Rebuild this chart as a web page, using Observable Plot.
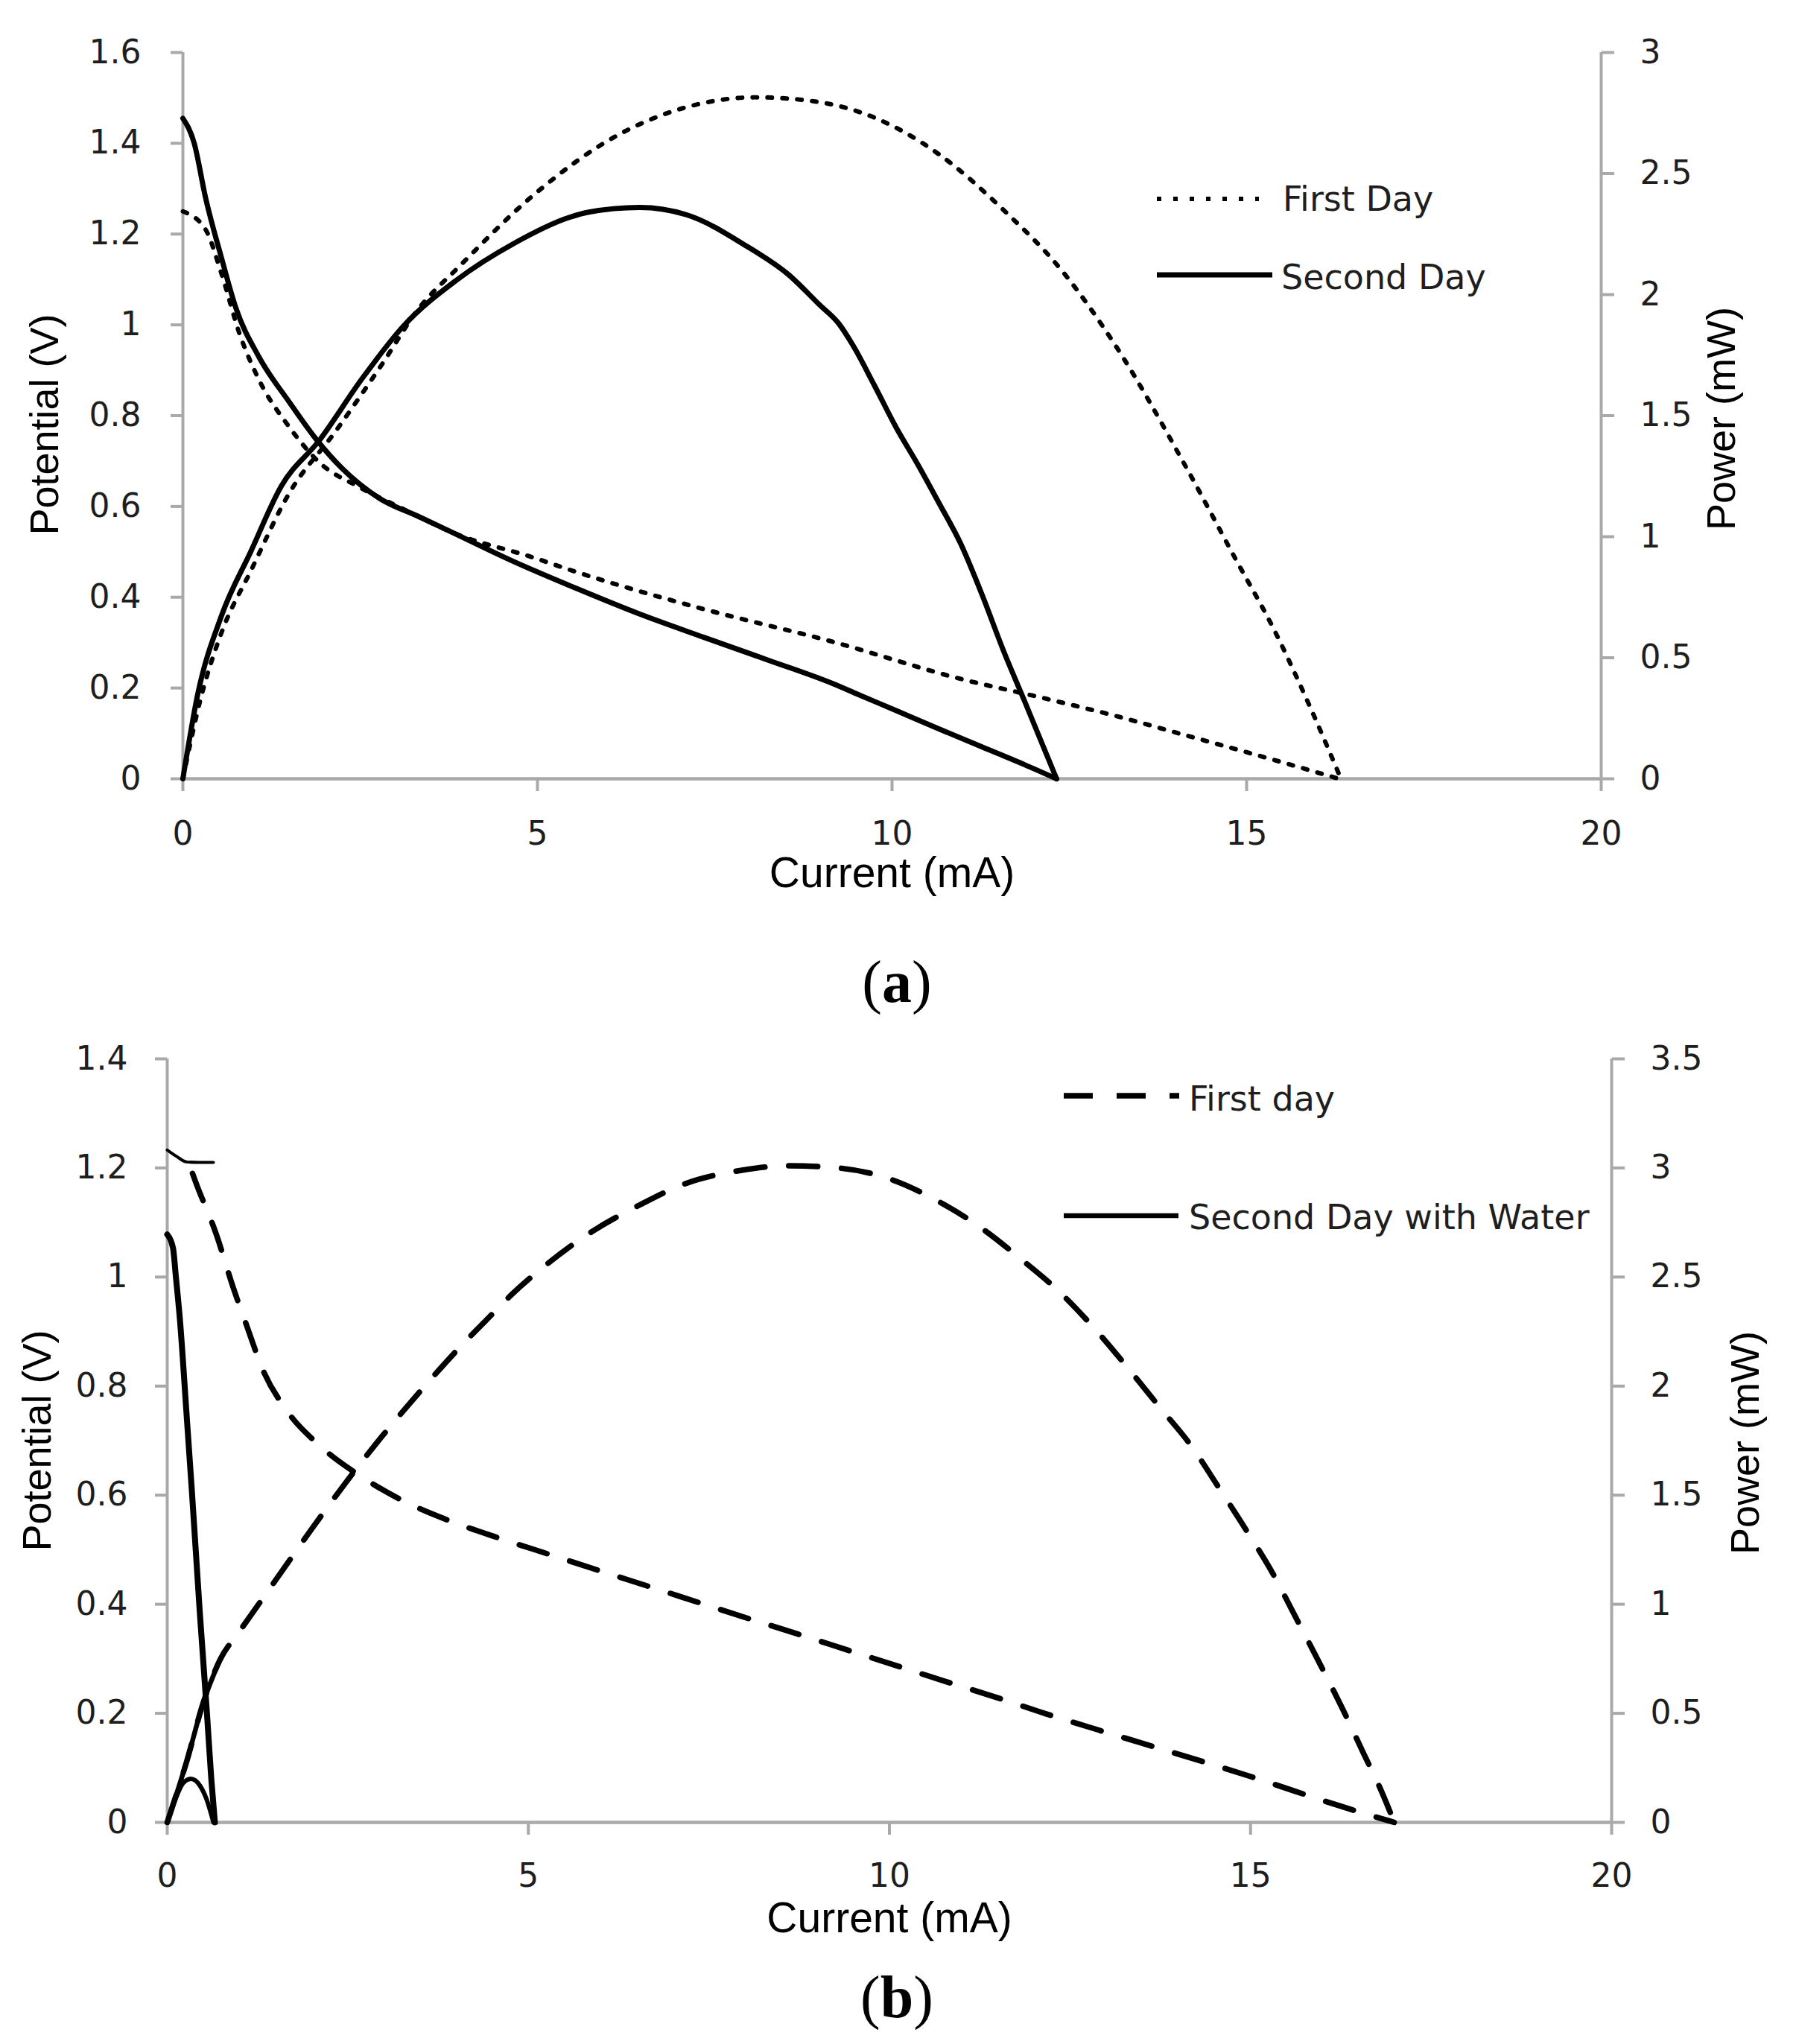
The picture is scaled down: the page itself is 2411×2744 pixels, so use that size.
<!DOCTYPE html>
<html><head><meta charset="utf-8">
<script src="https://cdn.jsdelivr.net/npm/d3@7"></script>
<script src="https://cdn.jsdelivr.net/npm/@observablehq/plot@0.6"></script>
<style>
html,body{margin:0;padding:0;background:#fff;}
#page{position:relative;width:2411px;height:2744px;background:#fff;overflow:hidden;}
#page > svg{position:absolute;left:0;}
</style></head><body><div id="page"></div>
<script>
// ---------- shared ticks ----------
const currentTicks = [0, 5, 10, 15, 20];

// ---------- panel (a) ----------
const aPotentialTicks = [0, 0.2, 0.4, 0.6, 0.8, 1, 1.2, 1.4, 1.6];
const aPowerTicks = [0, 0.5, 1, 1.5, 2, 2.5, 3];
// [current mA, potential V]
const aFirstPotential = [[0,1.25],[0.32,1.21],[0.54,1.115],[0.8,0.98],[1.07,0.88],[1.5,0.775],[1.93,0.696],[2.47,0.644],[3.06,0.598],[3.86,0.539],[4.93,0.488],[5.54,0.456],[7.34,0.374],[9.16,0.302],[10.97,0.22],[12.13,0.178],[13.14,0.139],[14.16,0.095],[15.51,0.036],[16.3,0]];
// [current mA, power mW]
const aFirstPower = [[0,0],[0.25,0.33],[0.54,0.6],[0.96,0.86],[1.5,1.18],[2.14,1.43],[2.78,1.7],[3.32,1.94],[3.91,2.12],[4.94,2.41],[6.14,2.66],[7.05,2.77],[8.07,2.815],[8.86,2.8],[9.76,2.73],[10.66,2.58],[11.57,2.35],[12.42,2.09],[13.15,1.79],[14.16,1.28],[14.84,0.91],[15.38,0.62],[15.92,0.28],[16.33,0]];
const aSecondPotential = [[0,1.455],[0.16,1.4],[0.32,1.28],[0.54,1.15],[0.75,1.036],[1.07,0.93],[1.5,0.83],[1.87,0.75],[2.25,0.683],[2.78,0.617],[3.32,0.578],[3.73,0.548],[4.63,0.481],[5.54,0.42],[6.44,0.363],[7.34,0.312],[8.26,0.261],[9.16,0.21],[9.52,0.186],[10.06,0.15],[10.66,0.11],[11.27,0.07],[11.87,0.031],[12.32,0]];
const aSecondPower = [[0,0],[0.21,0.35],[0.54,0.67],[0.96,0.94],[1.39,1.21],[1.93,1.4],[2.52,1.65],[3.11,1.87],[3.86,2.06],[4.66,2.21],[5.46,2.32],[5.71,2.34],[6.44,2.36],[7.1,2.33],[7.95,2.2],[8.55,2.08],[8.97,1.96],[9.25,1.88],[9.45,1.79],[9.76,1.62],[10.06,1.45],[10.36,1.3],[10.66,1.14],[10.97,0.97],[11.27,0.76],[11.57,0.53],[11.87,0.32],[12.32,0]];

// ---------- panel (b) ----------
const bPotentialTicks = [0, 0.2, 0.4, 0.6, 0.8, 1, 1.2, 1.4];
const bPowerTicks = [0, 0.5, 1, 1.5, 2, 2.5, 3, 3.5];
const bFirstPotential = [[0.35,1.19],[0.4,1.172],[0.68,1.078],[0.91,0.982],[1.1,0.911],[1.33,0.828],[1.65,0.756],[2.11,0.691],[2.71,0.632],[3.26,0.59],[3.91,0.553],[4.6,0.521],[5.3,0.491],[5.95,0.463],[6.66,0.433],[7.34,0.404],[8.02,0.375],[8.74,0.345],[9.42,0.316],[10.13,0.286],[10.81,0.257],[11.51,0.228],[12.17,0.199],[12.88,0.17],[13.58,0.142],[14.98,0.085],[16.36,0.025],[16.99,0]];
const bFirstPotentialStart = [[0,1.233],[0.12,1.222],[0.27,1.211],[0.45,1.21],[0.64,1.21]];
const bFirstPower = [[0,0],[0.27,0.28],[0.5,0.55],[0.73,0.745],[1.0,0.875],[1.5,1.11],[2.0,1.345],[2.5,1.57],[3.0,1.78],[3.5,1.975],[4.0,2.16],[4.5,2.33],[4.77,2.42],[5.3,2.57],[5.89,2.71],[6.54,2.83],[7.19,2.93],[7.87,2.985],[8.61,3.01],[9.29,3.0],[10.0,2.95],[10.66,2.85],[11.25,2.73],[11.83,2.58],[12.36,2.43],[12.85,2.26],[13.31,2.08],[13.75,1.9],[14.17,1.73],[14.57,1.53],[14.94,1.34],[15.31,1.14],[15.61,0.95],[15.94,0.74],[16.26,0.53],[16.56,0.32],[16.83,0.13],[16.99,0]];
const bFirstPowerSolidUpTo = 0.73;
const bSecondPotential = [[0,1.078],[0.08,1.053],[0.12,1.0],[0.175,0.923],[0.27,0.744],[0.34,0.61],[0.45,0.387],[0.55,0.2],[0.61,0.08],[0.66,0]];
const bSecondPower = [[0,0],[0.13,0.12],[0.22,0.18],[0.33,0.2],[0.45,0.17],[0.54,0.11],[0.64,0]];

// ---------- helpers ----------
const fmt = v => String(+(+v).toFixed(3));
const GRAY = "#a9a9a9";
const TXT = "#1e1e1e";
const TICKFONT = "DejaVu Sans";
const TITLEFONT = "Liberation Sans";
const CURVE = "monotone-x";
const page = document.getElementById("page");

function panel(cfg) {
  const k = cfg.yMax / cfg.pMax;
  const P = d => d[1] * k;
  const marks = [
    Plot.ruleY([0], {stroke: GRAY, strokeWidth: 4.5}),
    Plot.ruleX([0, 20], {stroke: GRAY, strokeWidth: 4}),
    Plot.axisX(currentTicks, {anchor: "bottom", tickSize: 17, tickPadding: cfg.xPad, stroke: GRAY, strokeWidth: 4, fill: TXT, fontSize: 44, fontFamily: TICKFONT, tickFormat: fmt}),
    Plot.axisY(cfg.yTicks, {anchor: "left", tickSize: 16, tickPadding: cfg.lPad, stroke: GRAY, strokeWidth: 4, fill: TXT, fontSize: 44, fontFamily: TICKFONT, tickFormat: fmt}),
    Plot.axisY(cfg.pTicks.map(p => p * k), {anchor: "right", tickSize: 17, tickPadding: 35, stroke: GRAY, strokeWidth: 4, fill: TXT, fontSize: 44, fontFamily: TICKFONT, textAnchor: "start", tickFormat: v => fmt(v / k)}),
    ...cfg.lines(P),
    Plot.text(["Current (mA)"], {frameAnchor: "bottom", dy: cfg.xTitleDy, fontSize: 57, fontFamily: TITLEFONT, fill: "#000", textAnchor: "middle", lineAnchor: "middle"}),
    Plot.text(["Potential (V)"], {frameAnchor: "left", dx: cfg.lTitleDx, dy: cfg.lTitleDy, rotate: -90, fontSize: 54, fontFamily: TITLEFONT, fill: "#000", textAnchor: "middle", lineAnchor: "middle"}),
    Plot.text(["Power (mW)"], {frameAnchor: "right", dx: cfg.rTitleDx, dy: cfg.rTitleDy, rotate: -90, fontSize: 54, fontFamily: TITLEFONT, fill: "#000", textAnchor: "middle", lineAnchor: "middle"})
  ];
  const svg = Plot.plot({
    width: 2411, height: cfg.height,
    marginTop: cfg.mt, marginBottom: cfg.mb, marginLeft: cfg.ml, marginRight: cfg.mr,
    x: {domain: [0, 20], axis: null},
    y: {domain: [0, cfg.yMax], axis: null},
    style: {fontFamily: TICKFONT, fontSize: "44px", background: "transparent"},
    marks
  });
  svg.style.top = cfg.top + "px";
  page.appendChild(svg);
}

const X = d => d[0], Y = d => d[1];

panel({
  top: 0, height: 1220, mt: 70, mb: 175, ml: 245, mr: 262,
  yMax: 1.6, pMax: 3, yTicks: aPotentialTicks, pTicks: aPowerTicks,
  xPad: 40, lPad: 40,
  xTitleDy: 127, lTitleDx: -185, lTitleDy: 12, rTitleDx: 162, rTitleDy: 4,
  lines: P => [
    Plot.line(aFirstPotential, {x: X, y: Y, stroke: "#000", strokeWidth: 6, strokeDasharray: "6,14", curve: CURVE}),
    Plot.line(aFirstPower, {x: X, y: P, stroke: "#000", strokeWidth: 6, strokeDasharray: "6,14", curve: CURVE}),
    Plot.line(aSecondPotential, {x: X, y: Y, stroke: "#000", strokeWidth: 7, strokeLinejoin: "round", curve: CURVE}),
    Plot.line(aSecondPower, {x: X, y: P, stroke: "#000", strokeWidth: 7, strokeLinejoin: "round", curve: CURVE})
  ]
});

panel({
  top: 1360, height: 1260, mt: 61, mb: 174, ml: 224, mr: 248,
  yMax: 1.4, pMax: 3.5, yTicks: bPotentialTicks, pTicks: bPowerTicks,
  xPad: 38, lPad: 37,
  xTitleDy: 129, lTitleDx: -174, lTitleDy: 0, rTitleDx: 180, rTitleDy: 3,
  lines: P => [
    Plot.line(bFirstPotentialStart, {x: X, y: Y, stroke: "#000", strokeWidth: 4, curve: CURVE}),
    Plot.line(bFirstPotential, {x: X, y: Y, stroke: "#000", strokeWidth: 7.5, strokeDasharray: "39,32", curve: CURVE}),
    Plot.line(bFirstPower, {x: X, y: P, stroke: "#000", strokeWidth: 7.5, strokeDasharray: "39,32", curve: CURVE}),
    Plot.line(bFirstPower.filter(d => d[0] <= bFirstPowerSolidUpTo), {x: X, y: P, stroke: "#000", strokeWidth: 6.5, curve: CURVE}),
    Plot.line(bSecondPotential, {x: X, y: Y, stroke: "#000", strokeWidth: 8, strokeLinejoin: "round", curve: CURVE}),
    Plot.line(bSecondPower, {x: X, y: P, stroke: "#000", strokeWidth: 6, strokeLinejoin: "round", curve: CURVE})
  ]
});

// ---------- legends and panel captions (overlay) ----------
const ns = "http://www.w3.org/2000/svg";
const ov = document.createElementNS(ns, "svg");
ov.setAttribute("width", 2411); ov.setAttribute("height", 2744);
ov.style.position = "absolute"; ov.style.top = "0px"; ov.style.left = "0px";
page.appendChild(ov);
function el(tag, attrs, text) {
  const e = document.createElementNS(ns, tag);
  for (const k in attrs) e.setAttribute(k, attrs[k]);
  if (text != null) e.textContent = text;
  ov.appendChild(e);
  return e;
}
const legends = [
  {x1: 1553, x2: 1690, y: 267, w: 6, dash: "6,16", tx: 1722, ty: 283, label: "First Day"},
  {x1: 1553, x2: 1708, y: 369, w: 7, dash: null, tx: 1720, ty: 388, label: "Second Day"},
  {x1: 1428, x2: 1583, y: 1471, w: 7.5, dash: "39,32", tx: 1596, ty: 1491, label: "First day"},
  {x1: 1428, x2: 1582, y: 1632, w: 6.5, dash: null, tx: 1596, ty: 1650, label: "Second Day with Water"}
];
for (const l of legends) {
  const a = {x1: l.x1, x2: l.x2, y1: l.y, y2: l.y, stroke: "#000", "stroke-width": l.w};
  if (l.dash) a["stroke-dasharray"] = l.dash;
  el("line", a);
  el("text", {x: l.tx, y: l.ty, "font-family": TICKFONT, "font-size": 46, fill: TXT}, l.label);
}
const captions = [{label: "a", x: 1204, y: 1345}, {label: "b", x: 1204, y: 2708}];
for (const c of captions) {
  const t = el("text", {x: c.x, y: c.y, "text-anchor": "middle", "font-family": "Liberation Serif", "font-size": 80, fill: "#000"});
  const s1 = document.createElementNS(ns, "tspan"); s1.textContent = "("; t.appendChild(s1);
  const s2 = document.createElementNS(ns, "tspan"); s2.setAttribute("font-weight", "bold"); s2.textContent = c.label; t.appendChild(s2);
  const s3 = document.createElementNS(ns, "tspan"); s3.textContent = ")"; t.appendChild(s3);
}
</script>
</body></html>
